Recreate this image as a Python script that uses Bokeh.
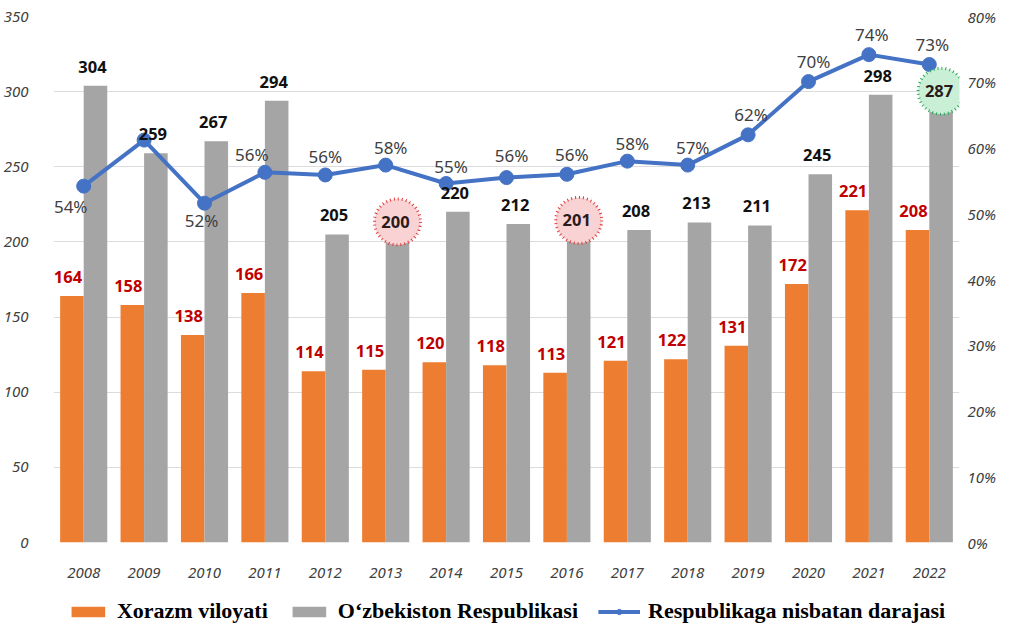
from bokeh.plotting import figure
from bokeh.layouts import column
from bokeh.models import (Range1d, FactorRange, LinearAxis, Legend, LegendItem,
                          ColumnDataSource, SingleIntervalTicker, PrintfTickFormatter)
from bokeh.transform import dodge
from bokeh.core.properties import value
from bokeh.embed import file_html
from bokeh.resources import INLINE

years = ["2008", "2009", "2010", "2011", "2012", "2013", "2014", "2015",
         "2016", "2017", "2018", "2019", "2020", "2021", "2022"]
xorazm = [164, 158, 138, 166, 114, 115, 120, 118, 113, 121, 122, 131, 172, 221, 208]
uzbekiston = [304, 259, 267, 294, 205, 200, 220, 212, 201, 208, 213, 211, 245, 298, 287]
ratio = [54.2, 61.2, 51.6, 56.3, 55.9, 57.4, 54.6, 55.5, 56.0, 58.0, 57.4, 62.0, 70.1, 74.2, 72.7]
ratio_labels = ["54%", "", "52%", "56%", "56%", "58%", "55%", "56%", "56%", "58%",
                "57%", "62%", "70%", "74%", "73%"]
highlight_years = ["2013", "2016", "2022"]
highlight_values = [200, 201, 287]
series_names = ["Xorazm viloyati", "O\u2018zbekiston Respublikasi",
                "Respublikaga nisbatan darajasi"]

# label placement (screen px)
pct_dx = [-13, 0, -3, -13, 0, 5, 5, 5, 5, 5, 5, 3, 5, 3, 3]
pct_dy = [20, -20, 17, -18, -18, -18, -17, -22, -20, -18, -18, -20, -20, -20, -20]
hl_fill = ["#f9d3d3", "#f9d3d3", "#c9efd6"]
hl_line = ["#e23a3a", "#e23a3a", "#2ea858"]

ORANGE = "#ED7D31"
GRAY = "#A5A5A5"
BLUE = "#4472C4"
TXT = "#404040"
FONT = "Noto Sans"

src = ColumnDataSource(dict(
    year=years, xorazm=xorazm, uzb=uzbekiston, ratio=ratio,
    xl=[str(v) for v in xorazm],
    ul=[("" if y in highlight_years else str(v)) for y, v in zip(years, uzbekiston)],
    rl=ratio_labels, dx=pct_dx, dy=pct_dy,
))
hsrc = ColumnDataSource(dict(year=highlight_years, v=highlight_values,
                             t=[str(v) for v in highlight_values],
                             fill=hl_fill, line=hl_line))

p = figure(x_range=FactorRange(factors=years), y_range=Range1d(0, 350),
           width=999, height=580, output_backend="svg", toolbar_location=None,
           min_border_left=47, min_border_right=40, min_border_top=16,
           min_border_bottom=37)
p.extra_y_ranges = {"pct": Range1d(0, 80)}
p.outline_line_color = None
p.background_fill_color = "white"

# axes
p.yaxis.ticker = SingleIntervalTicker(interval=50)
for ax in [p.yaxis[0], p.xaxis[0]]:
    ax.axis_line_color = None
    ax.major_tick_line_color = None
    ax.minor_tick_line_color = None
    ax.major_label_text_font = FONT
    ax.major_label_text_font_style = "italic"
    ax.major_label_text_font_size = "15px"
    ax.major_label_text_color = TXT
p.yaxis.major_label_standoff = 19
p.xaxis.major_label_standoff = 19

raxis = LinearAxis(y_range_name="pct", ticker=SingleIntervalTicker(interval=10),
                   formatter=PrintfTickFormatter(format="%d%%"))
raxis.axis_line_color = None
raxis.major_tick_line_color = None
raxis.minor_tick_line_color = None
raxis.major_tick_out = 0
raxis.minor_tick_out = 0
raxis.major_label_text_font = FONT
raxis.major_label_text_font_style = "italic"
raxis.major_label_text_font_size = "15px"
raxis.major_label_text_color = TXT
raxis.major_label_standoff = 8
p.add_layout(raxis, "right")

p.xgrid.grid_line_color = None
p.ygrid.grid_line_color = "#dcdcdc"
p.ygrid.grid_line_width = 1

# bars
W = 0.39
b1 = p.vbar(x=dodge("year", -0.195, range=p.x_range), top="xorazm", width=W,
            source=src, fill_color=ORANGE, line_color=None)
b2 = p.vbar(x=dodge("year", 0.195, range=p.x_range), top="uzb", width=W,
            source=src, fill_color=GRAY, line_color=None)

# line
l1 = p.line(x="year", y="ratio", y_range_name="pct", source=src,
            line_color=BLUE, line_width=4)
m1 = p.scatter(x="year", y="ratio", y_range_name="pct", source=src, size=14,
               fill_color=BLUE, line_color=BLUE)

# bar labels
p.text(x=dodge("year", -0.195, range=p.x_range), y="xorazm", text="xl", source=src,
       x_offset=-4, y_offset=-19, text_align="center", text_baseline="middle",
       text_font=value(FONT), text_font_style="bold", text_font_size="16.5px",
       text_color="#C00000")
p.text(x=dodge("year", 0.195, range=p.x_range), y="uzb", text="ul", source=src,
       x_offset=-3, y_offset=-19, text_align="center", text_baseline="middle",
       text_font=value(FONT), text_font_style="bold", text_font_size="16.5px",
       text_color="#111111")

# highlight circles (a little above the grey bar tops)
hx = dodge("year", 0.195, range=p.x_range)
hy = dodge("v", 13.3)
p.scatter(x=hx, y=hy, source=hsrc, size=46,
          fill_color="fill", line_color="line", line_width=3, line_dash="1 3")
p.text(x=hx, y=hy, text="t", source=hsrc,
       x_offset=-2, text_align="center", text_baseline="middle",
       text_font=value(FONT), text_font_style="bold", text_font_size="16.5px",
       text_color="#2a1a1a")

# percent labels
p.text(x="year", y="ratio", text="rl", y_range_name="pct", source=src,
       x_offset="dx", y_offset="dy", text_align="center", text_baseline="middle",
       text_font=value(FONT), text_font_size="17px", text_color=TXT)

# ---- legend strip: a small figure whose renderers reuse the series data,
#      which lies outside its 0..1 view, so only the legend swatches show ----
q = figure(width=999, height=44, x_range=Range1d(0, 1), y_range=Range1d(0, 1),
           output_backend="svg", toolbar_location=None, min_border=0)
q.axis.visible = False
q.grid.visible = False
q.outline_line_color = None
r1 = q.quad(left="xorazm", right="uzb", bottom="xorazm", top="uzb", source=src,
            fill_color=ORANGE, line_color=None)
r2 = q.quad(left="xorazm", right="uzb", bottom="xorazm", top="uzb", source=src,
            fill_color=GRAY, line_color=None)
r3 = q.line(x="xorazm", y="ratio", source=src, line_color=BLUE, line_width=4)
r4 = q.scatter(x="xorazm", y="ratio", source=src, size=12,
               fill_color=BLUE, line_color=BLUE)

legend = Legend(items=[
    LegendItem(label=series_names[0], renderers=[r1]),
    LegendItem(label=series_names[1], renderers=[r2]),
    LegendItem(label=series_names[2], renderers=[r3, r4]),
], orientation="horizontal", location="bottom_center")
legend.label_text_font = "Liberation Serif"
legend.label_text_font_style = "bold"
legend.label_text_font_size = "22px"
legend.label_text_color = "#000000"
legend.glyph_width = 42
legend.glyph_height = 13
legend.label_standoff = 8
legend.spacing = 20
legend.padding = 0
legend.margin = 0
legend.border_line_color = None
legend.background_fill_alpha = 0
q.add_layout(legend)

open("out.html", "w").write(file_html(column(p, q, spacing=0), INLINE))
